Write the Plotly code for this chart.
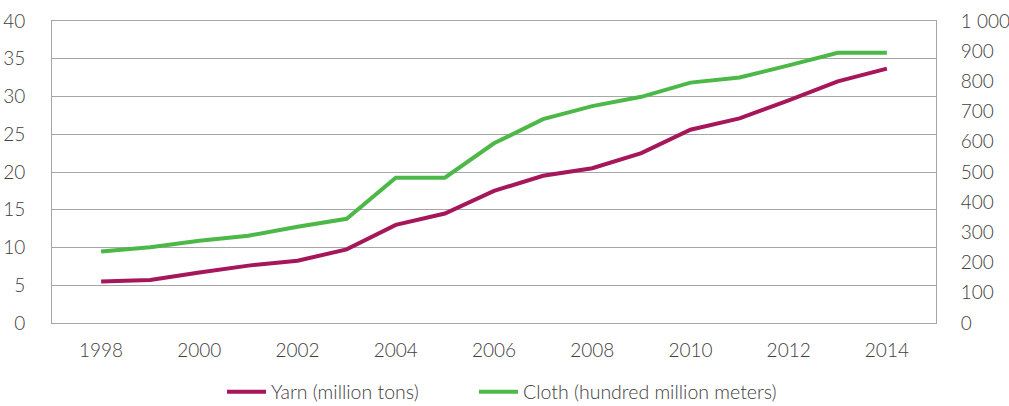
import plotly.graph_objects as go

# data
years = list(range(1998, 2015))
yarn = [5.5, 5.7, 6.7, 7.6, 8.25, 9.75, 13.0, 14.5, 17.5, 19.5, 20.5, 22.5, 25.6, 27.1, 29.5, 32.0, 33.7]
cloth = [237, 251, 272, 289, 319, 345, 481, 481, 595, 675, 718, 749, 796, 813, 853, 895, 895]

left_ticks = [0, 5, 10, 15, 20, 25, 30, 35, 40]
right_ticks = [0, 100, 200, 300, 400, 500, 600, 700, 800, 900, 1000]
right_labels = ["0", "100", "200", "300", "400", "500", "600", "700", "800", "900", "1 000"]
x_ticks = [1998, 2000, 2002, 2004, 2006, 2008, 2010, 2012, 2014]

fig = go.Figure()
fig.add_trace(go.Scatter(x=years, y=yarn, mode="lines", name="Yarn (million tons)",
                         line=dict(color="#A5175A", width=4), legend="legend"))
fig.add_trace(go.Scatter(x=years, y=cloth, mode="lines", name="Cloth (hundred million meters)",
                         line=dict(color="#4CB848", width=4), yaxis="y2", legend="legend2"))

fam = "Lato, Liberation Sans, sans-serif"
font = dict(family=fam, size=19, color="#404040", weight=300)
leg_font = dict(family=fam, size=19.5, color="#404040", weight=300)

fig.update_layout(
    width=1009, height=406,
    margin=dict(l=52, r=73, t=21, b=83),
    plot_bgcolor="white", paper_bgcolor="white",
    font=font,
    showlegend=True,
    # two legends so each entry can sit where the reference has it
    legend=dict(orientation="h", x=0.1923, xanchor="left", yref="container",
                y=0.0345, yanchor="middle", font=leg_font, itemwidth=39),
    legend2=dict(orientation="h", x=0.4774, xanchor="left", yref="container",
                 y=0.0345, yanchor="middle", font=leg_font, itemwidth=39),
    xaxis=dict(range=[1997, 2015], tickvals=x_ticks, showgrid=False, automargin=False,
               showline=True, linecolor="#A6A6A6", linewidth=1, mirror=True,
               ticks="", ticklabelstandoff=10, zeroline=False),
    yaxis=dict(range=[0, 40], tickvals=left_ticks, showgrid=True, gridcolor="#A6A6A6",
               gridwidth=1, showline=True, linecolor="#A6A6A6", linewidth=1, automargin=False,
               ticks="", ticklabelstandoff=22, zeroline=False),
    yaxis2=dict(range=[0, 1000], tickvals=right_ticks, ticktext=right_labels, automargin=False,
                overlaying="y", side="right", showgrid=False, showline=True,
                linecolor="#A6A6A6", linewidth=1, ticks="", ticklabelstandoff=20,
                zeroline=False),
)

fig.write_html("out.html", config={"displayModeBar": False},
               post_script="document.body.style.margin='0';")
